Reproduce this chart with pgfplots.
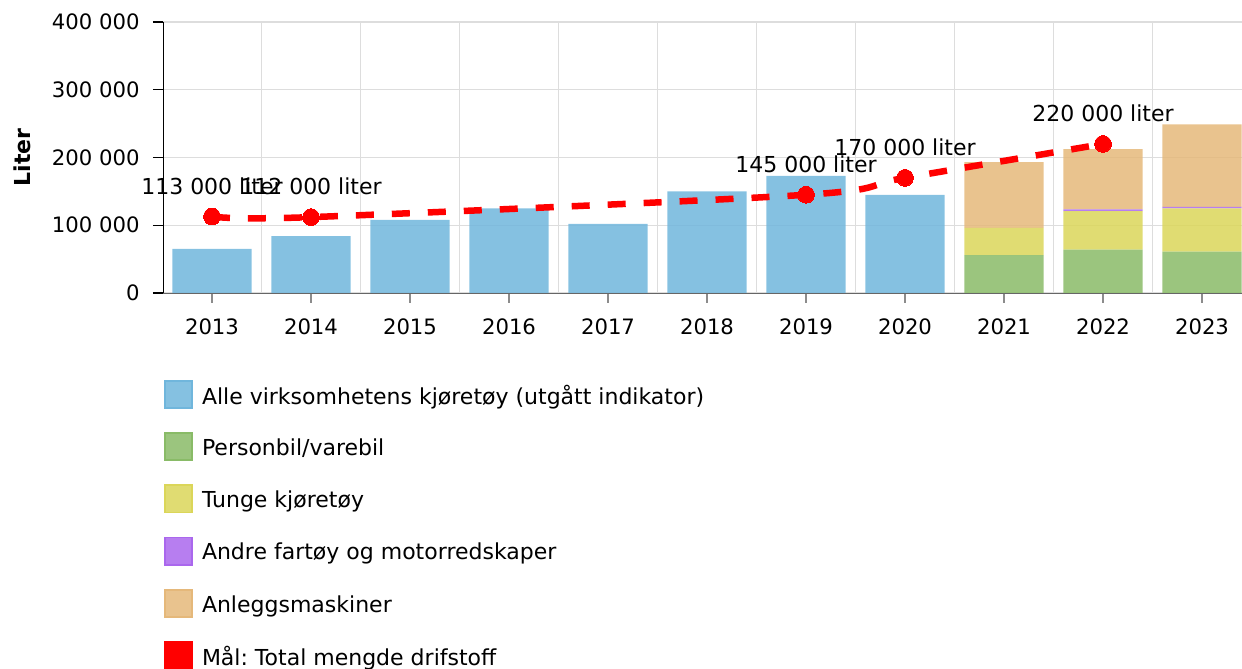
\documentclass[border=0pt]{standalone}
\usepackage{fontspec}
\setmainfont{DejaVu Sans}
\usepackage{pgfplots}
\pgfplotsset{compat=1.18}
\definecolor{cblue}{HTML}{70B6DC}
\definecolor{cgreen}{HTML}{89BB67}
\definecolor{cyellow}{HTML}{DBD659}
\definecolor{cpurple}{HTML}{AA67ED}
\definecolor{corange}{HTML}{E5B87A}
\definecolor{cgrid}{HTML}{DDDDDD}

\pgfplotsset{
  base/.style={
    scale only axis,
    width=539.5pt, height=135.5pt,
    at={(81.5pt,188pt)}, anchor=south west,
    xmin=-0.495, xmax=10.404,
    ymin=0, ymax=400000,
  },
}

\begin{document}
\frenchspacing
\fontsize{10.6pt}{12.7pt}\selectfont
\begin{tikzpicture}
\useasboundingbox (0,0) rectangle (621pt,334.5pt);

% bars
\begin{axis}[
  base,
  ybar stacked,
  bar width=0.8,
  axis lines=left,
  axis line style={-},
  x axis line style={draw=black!60},
  y axis line style={draw=black},
  tick align=outside,
  major tick length=5pt,
  minor tick length=0pt,
  xtick={0,...,10},
  xticklabels={2013,2014,2015,2016,2017,2018,2019,2020,2021,2022,2023},
  minor xtick={-0.5,0.5,...,10.5},
  x tick style={draw=black!45, line width=0.6pt},
  y tick style={draw=black, line width=0.6pt},
  x tick label style={yshift=-4pt},
  ytick={0,100000,200000,300000,400000},
  scaled y ticks=false,
  yticklabel style={xshift=-3pt, /pgf/number format/fixed, /pgf/number format/1000 sep={\ }, /pgf/number format/assume math mode=true},
  xminorgrids, ymajorgrids,
  minor grid style={draw=cgrid, line width=0.6pt},
  major grid style={draw=cgrid, line width=0.6pt},
  ylabel={\bfseries Liter},
  ylabel style={at={(axis description cs:0,0.5)}, anchor=center, yshift=70.5pt, font=\fontsize{11pt}{13pt}\selectfont},
  every axis plot/.append style={draw=none, fill opacity=0.85},
]
\addplot[fill=cblue] coordinates {
  (0,65000) (1,84000) (2,108000) (3,125000) (4,102000) (5,150000)
  (6,173000) (7,145000) (8,0) (9,0) (10,0)
};
\addplot[fill=cgreen] coordinates {
  (0,0) (1,0) (2,0) (3,0) (4,0) (5,0) (6,0) (7,0)
  (8,56000) (9,64000) (10,61000)
};
\addplot[fill=cyellow] coordinates {
  (0,0) (1,0) (2,0) (3,0) (4,0) (5,0) (6,0) (7,0)
  (8,40000) (9,57000) (10,64000)
};
\addplot[fill=cpurple] coordinates {
  (0,0) (1,0) (2,0) (3,0) (4,0) (5,0) (6,0) (7,0)
  (8,0) (9,2500) (10,2000)
};
\addplot[fill=corange] coordinates {
  (0,0) (1,0) (2,0) (3,0) (4,0) (5,0) (6,0) (7,0)
  (8,97000) (9,89000) (10,122000)
};
\end{axis}

% target line and legend
\begin{axis}[
  base,
  axis lines=none,
  clip=false,
  legend image code/.code={\draw[line width=0.9pt,#1] (0.45pt,-5.8pt) rectangle (14.05pt,7.8pt);},
  legend cell align=left,
  legend style={
    at={(axis description cs:0,0)}, anchor=north west,
    xshift=0.5pt, yshift=-43.5pt,
    draw=none, fill=none, inner sep=0pt, outer sep=0pt,
    row sep=11.6pt, column sep=4.5pt,
    nodes={inner sep=0pt, outer sep=0pt},
    font=\fontsize{11pt}{13pt}\selectfont,
  },
]
\addlegendimage{fill=cblue, fill opacity=0.85, draw=cblue}
\addlegendentry{Alle virksomhetens kjøretøy (utgått indikator)}
\addlegendimage{fill=cgreen, fill opacity=0.85, draw=cgreen}
\addlegendentry{Personbil/varebil}
\addlegendimage{fill=cyellow, fill opacity=0.85, draw=cyellow}
\addlegendentry{Tunge kjøretøy}
\addlegendimage{fill=cpurple, fill opacity=0.85, draw=cpurple}
\addlegendentry{Andre fartøy og motorredskaper}
\addlegendimage{fill=corange, fill opacity=0.85, draw=corange}
\addlegendentry{Anleggsmaskiner}
\addlegendimage{fill=red, draw=red}
\addlegendentry{Mål: Total mengde drifstoff}

\addplot[
  forget plot,
  color=red, line width=3.25pt, dash pattern=on 9pt off 9pt,
  smooth, tension=0.5,
  mark=*, mark size=4.2pt, mark options={solid, fill=red, draw=red, line width=0pt},
  nodes near coords, point meta=explicit symbolic,
  every node near coord/.append style={anchor=south, inner sep=0pt, yshift=11pt, text=black, font=\fontsize{11pt}{13pt}\selectfont},
] coordinates {
  (0,113000) [113 000 liter]
  (1,112000) [112 000 liter]
  (6,145000) [145 000 liter]
  (7,170000) [170 000 liter]
  (9,220000) [220 000 liter]
};
\end{axis}
\end{tikzpicture}
\end{document}
